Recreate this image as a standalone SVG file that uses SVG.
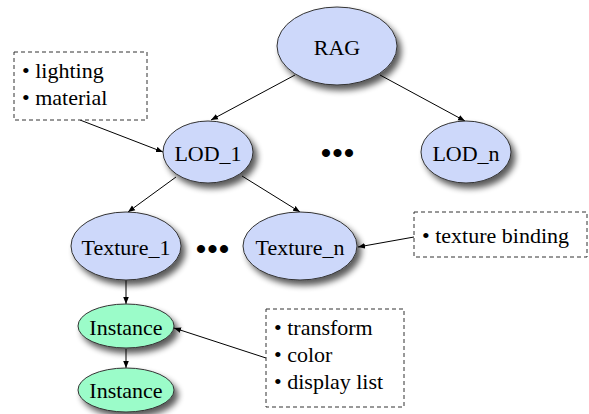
<svg xmlns="http://www.w3.org/2000/svg" width="589" height="414" viewBox="0 0 589 414">
  <style>
    .node { stroke: #333; stroke-width: 1; filter: url(#shadow); }
    .blue { fill: #cdd8fa; }
    .green { fill: #9bfcc9; }
    .label { font-family: "Liberation Serif", "Times New Roman", serif; font-size: 22px; fill: #000; }
    .mid { text-anchor: middle; }
    .dots { font-family: "Liberation Serif", "Times New Roman", serif; font-size: 30px; font-weight: bold; letter-spacing: 1px; text-anchor: middle; fill: #000; }
    .note { fill: #fff; stroke: #333; stroke-width: 1; stroke-dasharray: 4 3; }
    .edge { stroke: #000; stroke-width: 1; fill: none; marker-end: url(#arrow); }
  </style>
  <defs>
    <filter id="shadow" x="-30%" y="-30%" width="170%" height="170%">
      <feGaussianBlur in="SourceAlpha" stdDeviation="3"/>
      <feOffset dx="4" dy="5" result="b"/>
      <feComponentTransfer><feFuncA type="linear" slope="0.65"/></feComponentTransfer>
      <feMerge><feMergeNode/><feMergeNode in="SourceGraphic"/></feMerge>
    </filter>
    <marker id="arrow" viewBox="0 0 10 10" refX="10" refY="5" markerWidth="7" markerHeight="7" orient="auto" markerUnits="userSpaceOnUse">
      <path d="M0,1 L10,5 L0,9 z" fill="#000"/>
    </marker>
  </defs>

  <g id="connectors">
    <line class="edge" x1="295" y1="75" x2="211" y2="120"/>
    <line class="edge" x1="380" y1="75" x2="465" y2="121"/>
    <line class="edge" x1="80" y1="120" x2="163" y2="152"/>
    <line class="edge" x1="176" y1="177" x2="128" y2="212"/>
    <line class="edge" x1="242" y1="176" x2="300" y2="212"/>
    <line class="edge" x1="414" y1="237" x2="358" y2="247"/>
    <line class="edge" x1="126" y1="280" x2="126" y2="304"/>
    <line class="edge" x1="126" y1="349" x2="126" y2="368"/>
    <line class="edge" x1="266" y1="358" x2="174" y2="328"/>
  </g>

  <g id="rag">
    <ellipse class="node blue" cx="337" cy="46" rx="60" ry="39"/>
    <text class="label mid" x="337" y="55">RAG</text>
  </g>
  <g id="lod1">
    <ellipse class="node blue" cx="208" cy="152" rx="45" ry="31"/>
    <text class="label mid" x="208" y="161">LOD_1</text>
  </g>
  <g id="lodn">
    <ellipse class="node blue" cx="466" cy="152" rx="45" ry="31"/>
    <text class="label mid" x="466" y="161">LOD_n</text>
  </g>
  <g id="lod-dots">
    <text class="dots" x="338" y="163">•••</text>
  </g>
  <g id="texture1">
    <ellipse class="node blue" cx="126" cy="246" rx="55" ry="34"/>
    <text class="label mid" x="126" y="255">Texture_1</text>
  </g>
  <g id="texture-dots">
    <text class="dots" x="213" y="259">•••</text>
  </g>
  <g id="texturen">
    <ellipse class="node blue" cx="300" cy="246" rx="57" ry="34"/>
    <text class="label mid" x="300" y="255">Texture_n</text>
  </g>
  <g id="instance1">
    <ellipse class="node green" cx="126" cy="326" rx="48" ry="22"/>
    <text class="label mid" x="126" y="335">Instance</text>
  </g>
  <g id="instance2">
    <ellipse class="node green" cx="126" cy="390" rx="48" ry="22"/>
    <text class="label mid" x="126" y="398">Instance</text>
  </g>

  <g id="note-lod">
    <rect class="note" x="14" y="52" width="133" height="68"/>
    <text class="label" x="22" y="78">• lighting</text>
    <text class="label" x="22" y="105">• material</text>
  </g>
  <g id="note-texture">
    <rect class="note" x="414" y="212" width="173" height="45"/>
    <text class="label" x="422" y="243">• texture binding</text>
  </g>
  <g id="note-instance">
    <rect class="note" x="266" y="309" width="138" height="98"/>
    <text class="label" x="274" y="335">• transform</text>
    <text class="label" x="274" y="362">• color</text>
    <text class="label" x="274" y="389">• display list</text>
  </g>
</svg>
